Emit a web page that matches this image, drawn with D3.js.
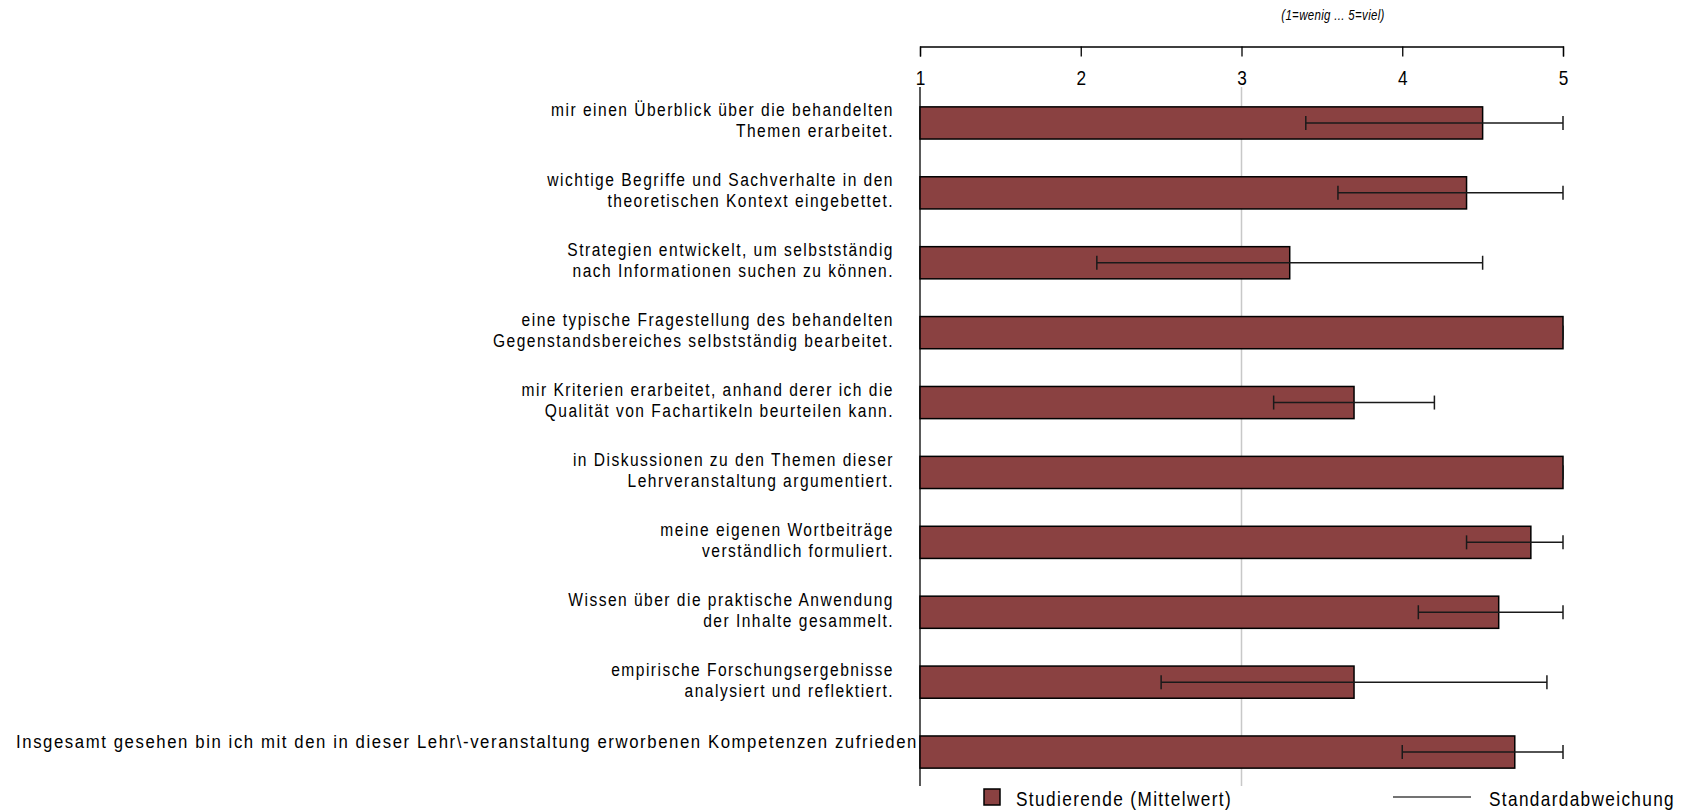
<!DOCTYPE html>
<html lang="de">
<head>
<meta charset="utf-8">
<script src="https://d3js.org/d3.v7.min.js"></script>
<style>
body { margin: 0; background: #fff; }
svg text {
    font-family: "Liberation Sans", Arial, sans-serif;
    fill: #000;
}
</style>
</head>
<body>
<script>
// item texts (one entry per bar, split into the lines shown)
var categories = [
    ["mir einen Überblick über die behandelten", "Themen erarbeitet."],
    ["wichtige Begriffe und Sachverhalte in den", "theoretischen Kontext eingebettet."],
    ["Strategien entwickelt, um selbstständig", "nach Informationen suchen zu können."],
    ["eine typische Fragestellung des behandelten", "Gegenstandsbereiches selbstständig bearbeitet."],
    ["mir Kriterien erarbeitet, anhand derer ich die", "Qualität von Fachartikeln beurteilen kann."],
    ["in Diskussionen zu den Themen dieser", "Lehrveranstaltung argumentiert."],
    ["meine eigenen Wortbeiträge", "verständlich formuliert."],
    ["Wissen über die praktische Anwendung", "der Inhalte gesammelt."],
    ["empirische Forschungsergebnisse", "analysiert und reflektiert."],
    ["Insgesamt gesehen bin ich mit den in dieser Lehr\\-veranstaltung erworbenen Kompetenzen zufrieden"]
];
var means = [4.5, 4.4, 3.3, 5.0, 3.7, 5.0, 4.8, 4.6, 3.7, 4.7];
var sds   = [1.1, 0.8, 1.2, 0.0, 0.5, 0.0, 0.4, 0.5, 1.2, 0.7];
var tickValues = [1, 2, 3, 4, 5];
var refLines = [3];
var scaleNote = "(1=wenig ... 5=viel)";
var legendLabels = ["Studierende (Mittelwert)", "Standardabweichung"];

var width = 1695,
    height = 811;
var barColor = "#8a4141";
var narrow = 0.82;   // squeeze Liberation Sans to a narrow face

var svg = d3.select("body").append("svg")
    .attr("width", width)
    .attr("height", height);

var x = d3.scaleLinear()
    .domain([1, 5])
    .range([920, 1563]);

var y = d3.scaleBand()
    .domain(d3.range(categories.length))
    .range([88, 787])
    .paddingInner(0.54)
    .paddingOuter(0.27);

// narrow text helper: a group placed at (px, py), squeezed horizontally
function narrowText(parent, px, py, size, spacing, anchor) {
    return parent.append("g")
        .attr("transform", "translate(" + px + "," + py + ") scale(" + narrow + ",1)")
        .append("text")
        .attr("text-anchor", anchor)
        .attr("dy", "0.36em")
        .style("font-size", size + "px")
        .style("letter-spacing", spacing + "px");
}

// scale note on top
narrowText(svg, 1333, 15, 14, 0.4, "middle")
    .style("font-style", "italic")
    .text(scaleNote);

// top axis, ticks pointing down, labels under them
var axis = svg.append("g")
    .attr("transform", "translate(0,46.5)")
    .call(d3.axisBottom(x)
        .tickValues(tickValues)
        .tickSize(10)
        .tickSizeOuter(10)
        .tickPadding(14)
        .tickFormat(d3.format("d")));
axis.selectAll("path, line").attr("stroke", "#000").attr("stroke-width", 1.3);
axis.selectAll("text")
    .attr("transform", "scale(" + narrow + ",1)")
    .style("font-size", "21px");

// reference line at the middle of the scale
svg.selectAll(".ref")
    .data(refLines)
    .enter().append("line")
    .attr("class", "ref")
    .attr("x1", d => x(d)).attr("x2", d => x(d))
    .attr("y1", 87).attr("y2", 786)
    .attr("stroke", "#c8c8c8")
    .attr("stroke-width", 1.5);

// left axis line
svg.append("line")
    .attr("x1", x(1)).attr("x2", x(1))
    .attr("y1", 87).attr("y2", 786)
    .attr("stroke", "#000")
    .attr("stroke-width", 1.3);

// bars
svg.selectAll(".bar")
    .data(means)
    .enter().append("rect")
    .attr("class", "bar")
    .attr("x", x(1))
    .attr("y", (d, i) => y(i))
    .attr("width", d => x(d) - x(1))
    .attr("height", y.bandwidth())
    .attr("fill", barColor)
    .attr("stroke", "#000")
    .attr("stroke-width", 1.5);

// standard deviation whiskers (clipped to the scale)
var cap = 7;
var err = svg.selectAll(".err")
    .data(means.map((m, i) => ({ i: i, lo: Math.max(1, m - sds[i]), hi: Math.min(5, m + sds[i]) })))
    .enter().append("g")
    .attr("class", "err")
    .attr("stroke", "#1a1a1a")
    .attr("stroke-width", 1.5);
err.append("line")
    .attr("x1", d => x(d.lo)).attr("x2", d => x(d.hi))
    .attr("y1", d => y(d.i) + y.bandwidth() / 2)
    .attr("y2", d => y(d.i) + y.bandwidth() / 2);
err.append("line")
    .attr("x1", d => x(d.lo)).attr("x2", d => x(d.lo))
    .attr("y1", d => y(d.i) + y.bandwidth() / 2 - cap)
    .attr("y2", d => y(d.i) + y.bandwidth() / 2 + cap);
err.append("line")
    .attr("x1", d => x(d.hi)).attr("x2", d => x(d.hi))
    .attr("y1", d => y(d.i) + y.bandwidth() / 2 - cap)
    .attr("y2", d => y(d.i) + y.bandwidth() / 2 + cap);

// item labels
var lineGap = 21;
var labelRight = 894;
var labelLeft = 16;
categories.forEach(function(lines, i) {
    var bc = y(i) + y.bandwidth() / 2;
    var top = bc - 10.5 - 3 * (lines.length - 1);
    lines.forEach(function(s, j) {
        var t = narrowText(svg, labelRight, top + j * lineGap, 19, 1.8, "end").text(s);
        // a long unwrapped line runs from the left edge right up to the axis
        if (t.node().getComputedTextLength() * narrow > 600) {
            d3.select(t.node().parentNode)
                .attr("transform", "translate(" + labelLeft + "," + (top + j * lineGap) + ") scale(" + narrow + ",1)");
            t.attr("text-anchor", "start")
                .attr("textLength", (x(1) - 2 - labelLeft) / narrow)
                .attr("lengthAdjust", "spacingAndGlyphs");
        }
    });
});

// legend
var legend = svg.append("g");
legend.append("rect")
    .attr("x", 984).attr("y", 789)
    .attr("width", 16).attr("height", 16)
    .attr("fill", barColor)
    .attr("stroke", "#000")
    .attr("stroke-width", 1.5);
narrowText(legend, 1016, 798, 21, 1.7, "start").text(legendLabels[0]);
legend.append("line")
    .attr("x1", 1393).attr("x2", 1471)
    .attr("y1", 797).attr("y2", 797)
    .attr("stroke", "#444")
    .attr("stroke-width", 1.5);
narrowText(legend, 1489, 798, 21, 1.65, "start").text(legendLabels[1]);
</script>
</body>
</html>
